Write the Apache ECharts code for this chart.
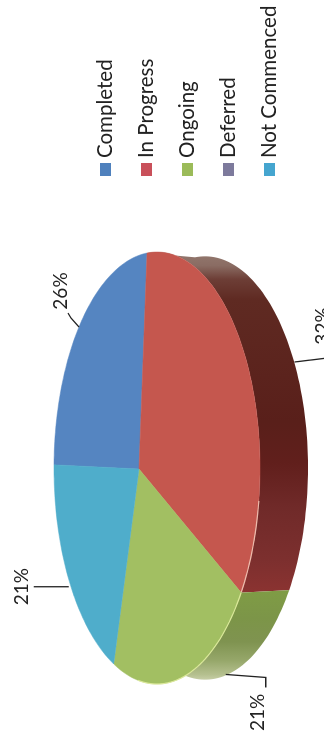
<!DOCTYPE html>
<html>
<head>
<meta charset="utf-8">
<style>
html,body{margin:0;padding:0;background:#fff;width:324px;height:735px;overflow:hidden}
#chart{position:absolute;left:0;top:0;width:735px;height:324px;transform-origin:0 0;transform:translateY(735px) rotate(-90deg)}
</style>
<script src="https://cdn.jsdelivr.net/npm/echarts@6/dist/echarts.min.js"></script>
</head>
<body>
<div id="chart"></div>
<script>
const categories = ['Completed', 'In Progress', 'Ongoing', 'Deferred', 'Not Commenced'];
const values = [26, 32, 21, 0, 21];
const faceColors = ['#5585c1', '#c5574e', '#a2bf62', '#7a7396', '#4fadcb'];
const legendColors = ['#4f81bd', '#c9505a', '#9bbb59', '#7d7a9c', '#45a5cf'];
const sideStops = {
  'In Progress': [[0, '#94796f'], [0.04, '#8a6c63'], [0.08, '#6d3e36'], [0.14, '#5f2a22'], [0.5, '#591f1a'], [0.62, '#611f1c'], [0.75, '#702a29'], [0.9, '#7c2f2e'], [1, '#8b3331']],
  'Ongoing': [[0, '#7f9c45'], [0.3, '#7c9548'], [0.55, '#7f9350'], [0.75, '#96a76a'], [0.9, '#b5c08f'], [1, '#d6dabb']]
};
const rimGlow = { 'In Progress': '#f3c9b8', 'Ongoing': '#e2eda0' };

// Geometry of the perspective disc, in the frame of the upright picture.
const CX = 157, CY = 468, RX = 103, RY = 216, SKEW = -0.175, DEPTH = 48, DEPTH_SQUEEZE = 0.98;
const APEX_Y = 469;
const START_ANGLE = 181;
// Leader-line bends and label centres, relative to each slice's rim anchor.
const leaderOffsets = {
  'Completed': { path: [[0, 0], [-8, -9], [-11, -14]], text: [-18, -36], outer: false },
  'In Progress': { path: [[3, 9], [36, 5]], text: [31, -27], outer: true },
  'Ongoing': { path: [[-2, 0], [38, 3], [38, 13]], text: [30, 38], outer: true },
  'Not Commenced': { path: [[0, 7], [-35, 7]], text: [-47, 7], outer: false }
};

function project(deg, outer) {
  const r = deg * Math.PI / 180, c = Math.cos(r), s = Math.sin(r);
  const d = 1 + SKEW * c;
  const X = (c + SKEW) / d, Y = s * Math.sqrt(1 - SKEW * SKEW) / d;
  return outer
    ? [CX + DEPTH + RX * X, CY + RY * DEPTH_SQUEEZE * Y]
    : [CX + RX * X, CY + RY * Y];
}
const toChart = p => [735 - p[1], p[0]];
const total = values.reduce((a, b) => a + b, 0);

function arc(a0, a1, outer) {
  const pts = [];
  const n = Math.max(2, Math.ceil((a1 - a0) / 1.5));
  for (let i = 0; i <= n; i++) pts.push(project(a0 + (a1 - a0) * i / n, outer));
  return pts;
}

function renderSlice(idx) {
  return function (params, api) {
    const value = api.value(0);
    if (!value) return { type: 'group', children: [] };
    let before = 0;
    for (let i = 0; i < idx; i++) before += values[i];
    const a0 = START_ANGLE + before / total * 360;
    const a1 = a0 + value / total * 360;
    const name = categories[idx];
    const children = [];

    // side wall: only the part of the rim facing the viewer
    const rim = arc(a0, a1, false);
    const rimOuter = arc(a0, a1, true);
    const keep = rim.map(p => p[0] > CX - 0.2 * RX);
    const a = rim.filter((p, i) => keep[i]);
    const b = rimOuter.filter((p, i) => keep[i]);
    if (sideStops[name] && a.length > 1) {
      const ys = a.concat(b).map(p => p[1]);
      const top = Math.min(...ys), bottom = Math.max(...ys);
      const stops = sideStops[name].map(s => ({ offset: s[0], color: s[1] }));
      children.push({
        type: 'polygon',
        shape: { points: a.concat(b.slice().reverse()).map(toChart) },
        style: { fill: new echarts.graphic.LinearGradient(735 - top, 0, 735 - bottom, 0, stops, true) }
      });
    }
    // top face
    const apex = [CX + RX * SKEW, APEX_Y];
    children.push({
      type: 'polygon',
      shape: { points: [apex].concat(rim).map(toChart) },
      style: { fill: faceColors[idx], stroke: faceColors[idx], lineWidth: 0.5 }
    });
    // pale rim highlight on the lower edge
    if (rimGlow[name]) {
      const low = rim.filter(p => p[1] > CY + 30 && p[0] > CX - 0.2 * RX);
      if (low.length > 1) children.push({
        type: 'polyline',
        shape: { points: low.map(toChart) },
        style: { fill: null, stroke: rimGlow[name], lineWidth: 1.2, opacity: 0.85 }
      });
    }
    // leader and percent label
    const lead = leaderOffsets[name];
    if (lead) {
      const anchor = project((a0 + a1) / 2, lead.outer);
      children.push({
        type: 'polyline',
        shape: { points: lead.path.map(o => toChart([anchor[0] + o[0], anchor[1] + o[1]])) },
        style: { fill: null, stroke: '#222', lineWidth: 1.3 }
      });
      const t = toChart([anchor[0] + lead.text[0], anchor[1] + lead.text[1]]);
      children.push({
        type: 'text',
        style: { x: t[0], y: t[1], text: value + '%', align: 'center', verticalAlign: 'middle', fontFamily: 'Lato', fontSize: 19, fill: '#222' }
      });
    }
    return { type: 'group', children };
  };
}

const chart = echarts.init(document.getElementById('chart'), null, { renderer: 'canvas' });
chart.setOption({
  animation: false,
  backgroundColor: '#fff',
  legend: {
    orient: 'vertical', left: 559, top: 95,
    padding: 0, itemWidth: 13, itemHeight: 11, itemGap: 20,
    icon: 'rect', selectedMode: false,
    data: categories,
    textStyle: { fontFamily: 'Lato', fontSize: 20.5, lineHeight: 20, color: '#222' }
  },
  series: categories.map((name, i) => ({
    type: 'custom',
    name,
    coordinateSystem: 'none',
    silent: true,
    itemStyle: { color: legendColors[i] },
    data: [[values[i]]],
    renderItem: renderSlice(i)
  }))
});
</script>
</body>
</html>
